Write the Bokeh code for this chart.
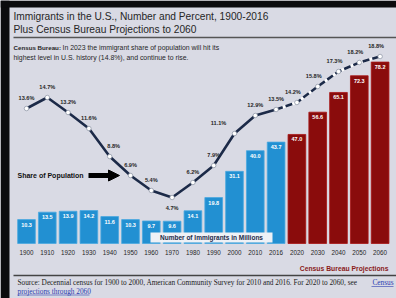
from bokeh.plotting import figure
from bokeh.models import Range1d, Label, Arrow, NormalHead, ColumnDataSource, BoxAnnotation
from bokeh.core.properties import value
from bokeh.embed import file_html
from bokeh.resources import INLINE

# ---------------- data ----------------
years = ["1900", "1910", "1920", "1930", "1940", "1950", "1960", "1970", "1980",
         "1990", "2000", "2010", "2016", "2020", "2030", "2040", "2050", "2060"]
immigrants_millions = [10.3, 13.5, 13.9, 14.2, 11.6, 10.3, 9.7, 9.6, 14.1,
                       19.8, 31.1, 40.0, 43.7, 47.0, 56.6, 65.1, 72.3, 78.2]
share_pct = [13.6, 14.7, 13.2, 11.6, 8.8, 6.9, 5.4, 4.7, 6.2,
             7.9, 11.1, 12.9, 13.5, 14.2, 15.8, 17.3, 18.2, 18.8]
is_projection = [False] * 13 + [True] * 5

title_1 = "Immigrants in the U.S., Number and Percent, 1900-2016"
title_2 = "Plus Census Bureau Projections to 2060"
sub_bold = "Census Bureau:"
sub_1 = "In 2023 the immigrant share of population will hit its"
sub_2 = "highest level in U.S. history (14.8%), and continue to rise."
source_1 = ("Source: Decennial census for 1900 to 2000, American Community Survey "
            "for 2010 and 2016. For 2020 to 2060, see")
source_link_1 = "Census"
source_link_2 = "projections through 2060"

# ---------------- styling ----------------
W, H = 396, 298
BG = "#d9dae4"
NAVY = "#1c2a48"
BLUE = "#2290d2"
RED = "#8a0c0c"
RED_EDGE = "#a81515"
DARK = "#262626"
SANS = "Liberation Sans"
SERIF = "Liberation Serif"

# pixel geometry of the chart (figure pixels)
STEP = 20.8          # px between bar centres
X_FIRST = 26         # px from left to first bar centre
PX_M = 2.32          # px per million
BASE = 55            # px from bottom to bar baseline
PX_S = 10.0          # px per percentage point
S_BASE = 54          # px from bottom to 0 %

X0, X1 = -X_FIRST / STEP, (W - X_FIRST) / STEP
Y0, Y1 = -BASE / PX_M, (H - BASE) / PX_M


def fx(px):
    return (px - X_FIRST) / STEP


def fy(py):
    return ((H - py) - BASE) / PX_M


p = figure(width=W, height=H, x_range=Range1d(X0, X1), y_range=Range1d(Y0, Y1),
           output_backend="svg", toolbar_location=None, min_border=0,
           x_axis_location=None, y_axis_location=None,
           background_fill_color=BG, border_fill_color=BG, outline_line_color=None)
p.grid.visible = False
p.extra_y_ranges = {"share": Range1d(-S_BASE / PX_S, (H - S_BASE) / PX_S)}

# dark photo edges around the slide
p.add_layout(BoxAnnotation(left=X0, right=fx(9), fill_color="#0b0b0d", fill_alpha=1, line_color=None))
p.add_layout(BoxAnnotation(bottom=fy(7), top=Y1, fill_color="#0b0b0d", fill_alpha=1, line_color=None))

idx = list(range(len(years)))
src = ColumnDataSource(dict(
    x=idx, year=years, n=immigrants_millions, s=share_pct,
    n_lbl=[f"{v:.1f}" for v in immigrants_millions],
    s_lbl=[f"{v:.1f}%" for v in share_pct],
    fill=[RED if pr else BLUE for pr in is_projection],
    edge=[RED_EDGE if pr else "#4aa8e0" for pr in is_projection],
    dx=[-16 if y == "2000" else (4 if y == "1940" else (-4 if pr else 0))
        for y, pr in zip(years, is_projection)],
    dy=[10 if v == min(share_pct) else -11 for v in share_pct],
))

# bars
p.vbar(x="x", top="n", bottom=0, width=0.85, source=src,
       fill_color="fill", line_color="edge", line_width=0.8)
p.text(x="x", y="n", text="n_lbl", source=src, y_offset=5,
       text_align="center", text_baseline="middle", text_color="white",
       text_font=value(SANS), text_font_style="bold", text_font_size="5.5px")

# year labels
p.text(x="x", y=0, text="year", source=src, y_offset=9,
       text_align="center", text_baseline="middle", text_color=DARK,
       text_font=value(SANS), text_font_size="6.3px")

# share line
n_hist = is_projection.index(True)
p.line(x=idx[:n_hist], y=share_pct[:n_hist], y_range_name="share",
       line_color=NAVY, line_width=2.6)
p.line(x=idx[n_hist - 1:], y=share_pct[n_hist - 1:], y_range_name="share",
       line_color="white", line_width=2.6)
p.line(x=idx[n_hist - 1:], y=share_pct[n_hist - 1:], y_range_name="share",
       line_color=NAVY, line_width=2.6, line_dash="7 3")
p.scatter(x="x", y="s", source=src, y_range_name="share", size=4.5,
          fill_color="white", line_color="#8890a0", line_width=0.7)
p.text(x="x", y="s", text="s_lbl", source=src, y_range_name="share",
       x_offset="dx", y_offset="dy",
       text_align="center", text_baseline="middle", text_color=DARK,
       text_font=value(SANS), text_font_style="bold", text_font_size="5.6px")

# "Number of Immigrants in Millions" box
p.quad(left=fx(150), right=fx(272), bottom=fy(242), top=fy(232),
       fill_color="#eef1f6", line_color=None)
p.add_layout(Label(x=fx(211), y=fy(237), text="Number of Immigrants in Millions",
                   text_align="center", text_baseline="middle", text_color=NAVY,
                   text_font=SANS, text_font_style="bold", text_font_size="6.5px"))

# "Share of Population" + arrow
p.add_layout(Label(x=fx(17), y=fy(175), text="Share of Population",
                   text_align="left", text_baseline="middle", text_color="#111111",
                   text_font=SANS, text_font_style="bold", text_font_size="7px"))
p.add_layout(Arrow(x_start=fx(88), y_start=fy(175), x_end=fx(119), y_end=fy(175),
                   line_width=5, line_color="black",
                   end=NormalHead(size=11, fill_color="black", line_color="black")))

# titles
p.add_layout(Label(x=fx(13), y=fy(15.5), text=title_1, text_align="left",
                   text_baseline="middle", text_color=DARK, text_font=SANS,
                   text_font_size="10.2px"))
p.add_layout(Label(x=fx(13), y=fy(29), text=title_2, text_align="left",
                   text_baseline="middle", text_color=DARK, text_font=SANS,
                   text_font_size="10.2px"))
p.segment(x0=fx(13), x1=X1, y0=fy(37), y1=fy(37), line_color="#555555", line_width=1.4)

p.add_layout(Label(x=fx(13), y=fy(47), text=sub_bold, text_align="left",
                   text_baseline="middle", text_color=DARK, text_font=SANS,
                   text_font_style="bold", text_font_size="6.2px"))
p.add_layout(Label(x=fx(62), y=fy(47), text=sub_1, text_align="left",
                   text_baseline="middle", text_color=DARK, text_font=SANS,
                   text_font_size="6.9px"))
p.add_layout(Label(x=fx(13), y=fy(56.5), text=sub_2, text_align="left",
                   text_baseline="middle", text_color=DARK, text_font=SANS,
                   text_font_size="6.9px"))

# projections caption
p.add_layout(Label(x=fx(388), y=fy(268), text="Census Bureau Projections",
                   text_align="right", text_baseline="middle", text_color="#8a1a1a",
                   text_font=SANS, text_font_style="bold", text_font_size="6.8px"))
p.segment(x0=fx(13), x1=X1, y0=fy(275), y1=fy(275), line_color="#444444", line_width=1.4)

# source
p.add_layout(Label(x=fx(17), y=fy(282), text=source_1, text_align="left",
                   text_baseline="middle", text_color="#222222", text_font=SERIF,
                   text_font_size="7.3px"))
p.add_layout(Label(x=fx(393), y=fy(282), text=source_link_1, text_align="right",
                   text_baseline="middle", text_color="#2b3cb0", text_font=SERIF,
                   text_font_size="7.3px"))
p.add_layout(Label(x=fx(17), y=fy(290.5), text=source_link_2, text_align="left",
                   text_baseline="middle", text_color="#2b3cb0", text_font=SERIF,
                   text_font_size="7.3px"))
p.segment(x0=fx(371), x1=fx(393), y0=fy(286), y1=fy(286), line_color="#2b3cb0", line_width=0.6)
p.segment(x0=fx(17), x1=fx(89), y0=fy(294.5), y1=fy(294.5), line_color="#2b3cb0", line_width=0.6)

open("out.html", "w").write(file_html(p, INLINE))
